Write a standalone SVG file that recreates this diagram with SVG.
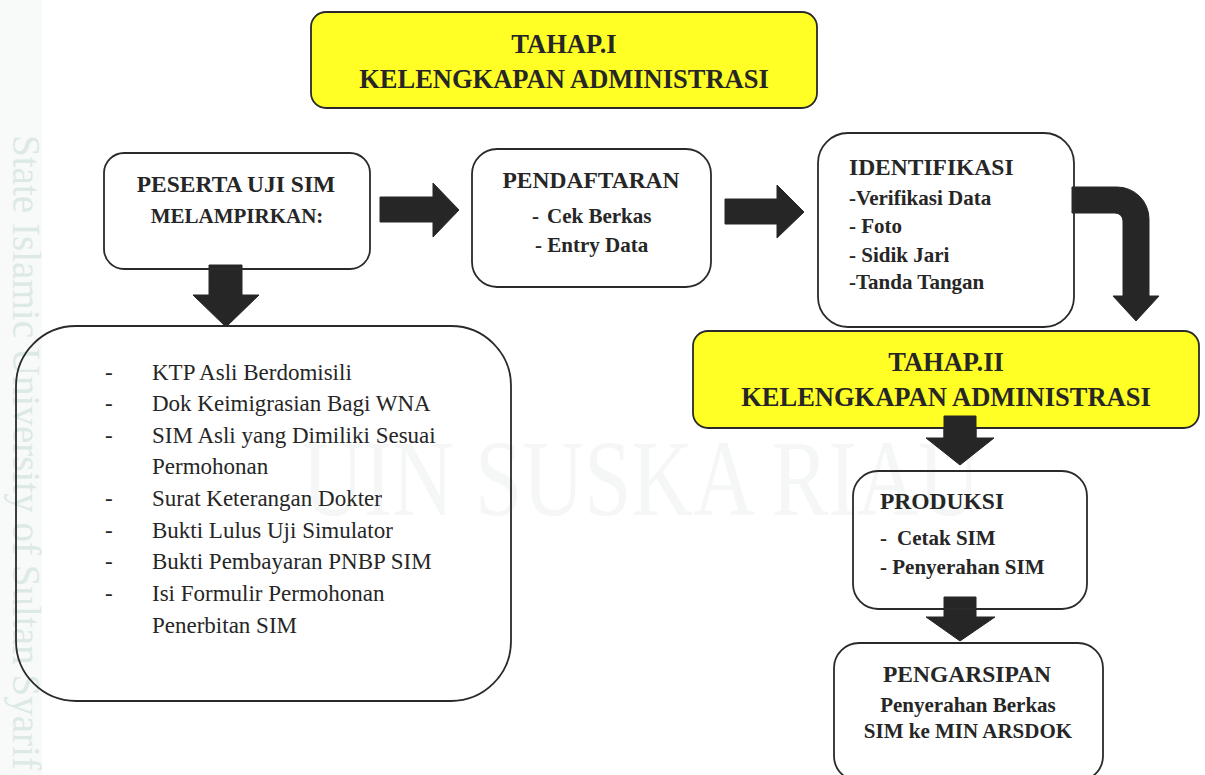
<svg xmlns="http://www.w3.org/2000/svg" width="1205" height="775" viewBox="0 0 1205 775">
<style>
  .box { fill: none; stroke: #2a2a2a; stroke-width: 1.8; }
  .ybox { fill: #ffff26; stroke: #2a2a2a; stroke-width: 1.8; }
  .arrow { fill: #262626; stroke: #262626; stroke-width: 1; stroke-linejoin: round; }
  .serif { font-family: "Liberation Serif", "Times New Roman", serif; }
  .ink { fill: #262626; }
  .hb { font-weight: bold; font-size: 23.5px; }
  .title { font-weight: bold; font-size: 26.5px; }
  .sb { font-weight: bold; font-size: 21px; }
  .li { font-size: 23px; }
</style>
<rect x="0" y="0" width="1205" height="775" fill="#ffffff"/>
<g id="watermark" font-family="Liberation Serif, Times New Roman, serif">
  <rect x="0" y="0" width="42" height="775" fill="#f8f9f9"/>
  <text class="serif" transform="translate(13,135) rotate(90)" font-size="39" fill="#dce9e6" textLength="635" lengthAdjust="spacing">State Islamic University of Sultan Syarif</text>
  <text class="serif" x="302" y="515" font-size="108" fill="#f5f6f6" textLength="678" lengthAdjust="spacingAndGlyphs">UIN SUSKA RIAU</text>
</g>
<g id="connectors">
  <polygon class="arrow" points="380,197 433,197 433,183 459,210 433,237 433,222 380,222"/>
  <polygon class="arrow" points="725,199 777,199 777,185 804,212 777,238 777,224 725,224"/>
  <polygon class="arrow" points="209,265 242,265 242,295 259,295 226,327 193,295 209,295"/>
  <path class="arrow" d="M1072,187 L1117,187 A32,32 0 0 1 1149,219 L1149,296 L1159,296 L1136,321 L1113,296 L1123,296 L1123,221 A8,8 0 0 0 1115,213 L1072,213 Z"/>
  <polygon class="arrow" points="944,416 976,416 976,438 994,438 960,465 926,438 944,438"/>
  <polygon class="arrow" points="944,597 976,597 976,617 995,617 960,641 926,617 944,617"/>
</g>
<g id="tahap1" class="serif ink" font-family="Liberation Serif, Times New Roman, serif">
  <rect class="ybox" x="311" y="12" width="506" height="96" rx="15"/>
  <text class="serif ink title" x="564" y="53" text-anchor="middle">TAHAP.I</text>
  <text class="serif ink title" x="564" y="88" text-anchor="middle">KELENGKAPAN ADMINISTRASI</text>
</g>
<g id="peserta" font-family="Liberation Serif, Times New Roman, serif">
  <rect class="box" x="104" y="153" width="266" height="116" rx="20"/>
  <text class="serif ink hb" x="236" y="192" text-anchor="middle">PESERTA UJI SIM</text>
  <text class="serif ink sb" x="237" y="223" text-anchor="middle">MELAMPIRKAN:</text>
</g>
<g id="pendaftaran" font-family="Liberation Serif, Times New Roman, serif">
  <rect class="box" x="472" y="149" width="239" height="138" rx="25"/>
  <text class="serif ink hb" x="591" y="188" text-anchor="middle">PENDAFTARAN</text>
  <text class="serif ink sb" y="223"><tspan x="532">-</tspan><tspan x="547">Cek Berkas</tspan></text>
  <text class="serif ink sb" x="535" y="252">- Entry Data</text>
</g>
<g id="identifikasi" font-family="Liberation Serif, Times New Roman, serif">
  <rect class="box" x="818" y="133" width="256" height="194" rx="30"/>
  <text class="serif ink hb" x="849" y="175">IDENTIFIKASI</text>
  <text class="serif ink sb" x="849" y="205">-Verifikasi Data</text>
  <text class="serif ink sb" x="849" y="233">- Foto</text>
  <text class="serif ink sb" x="849" y="262">- Sidik Jari</text>
  <text class="serif ink sb" x="849" y="289">-Tanda Tangan</text>
</g>
<g id="persyaratan" font-family="Liberation Serif, Times New Roman, serif">
  <rect class="box" x="16" y="326" width="495" height="375" rx="60"/>
  <text class="serif ink li" x="105" y="380">-</text><text class="serif ink li" x="152" y="380">KTP Asli Berdomisili</text>
  <text class="serif ink li" x="105" y="411">-</text><text class="serif ink li" x="152" y="411">Dok Keimigrasian Bagi WNA</text>
  <text class="serif ink li" x="105" y="443">-</text><text class="serif ink li" x="152" y="443">SIM Asli yang Dimiliki Sesuai</text>
  <text class="serif ink li" x="152" y="474">Permohonan</text>
  <text class="serif ink li" x="105" y="506">-</text><text class="serif ink li" x="152" y="506">Surat Keterangan Dokter</text>
  <text class="serif ink li" x="105" y="538">-</text><text class="serif ink li" x="152" y="538">Bukti Lulus Uji Simulator</text>
  <text class="serif ink li" x="105" y="569">-</text><text class="serif ink li" x="152" y="569">Bukti Pembayaran PNBP SIM</text>
  <text class="serif ink li" x="105" y="601">-</text><text class="serif ink li" x="152" y="601">Isi Formulir Permohonan</text>
  <text class="serif ink li" x="152" y="633">Penerbitan SIM</text>
</g>
<g id="tahap2" font-family="Liberation Serif, Times New Roman, serif">
  <rect class="ybox" x="693" y="331" width="506" height="97" rx="15"/>
  <text class="serif ink title" x="946" y="371" text-anchor="middle">TAHAP.II</text>
  <text class="serif ink title" x="946" y="406" text-anchor="middle">KELENGKAPAN ADMINISTRASI</text>
</g>
<g id="arrowsTop">
  <polygon class="arrow" points="944,416 976,416 976,438 944,438"/>
</g>
<g id="produksi" font-family="Liberation Serif, Times New Roman, serif">
  <rect class="box" x="853" y="471" width="234" height="138" rx="25"/>
  <text class="serif ink hb" x="880" y="509">PRODUKSI</text>
  <text class="serif ink sb" y="545"><tspan x="880">-</tspan><tspan x="897">Cetak SIM</tspan></text>
  <text class="serif ink sb" x="880" y="574">- Penyerahan SIM</text>
</g>
<g id="pengarsipan" font-family="Liberation Serif, Times New Roman, serif">
  <rect class="box" x="834" y="643" width="269" height="138" rx="25"/>
  <text class="serif ink hb" x="967" y="682" text-anchor="middle">PENGARSIPAN</text>
  <text class="serif ink sb" x="968" y="712" text-anchor="middle">Penyerahan Berkas</text>
  <text class="serif ink sb" x="968" y="738" text-anchor="middle">SIM ke MIN ARSDOK</text>
</g>
</svg>
